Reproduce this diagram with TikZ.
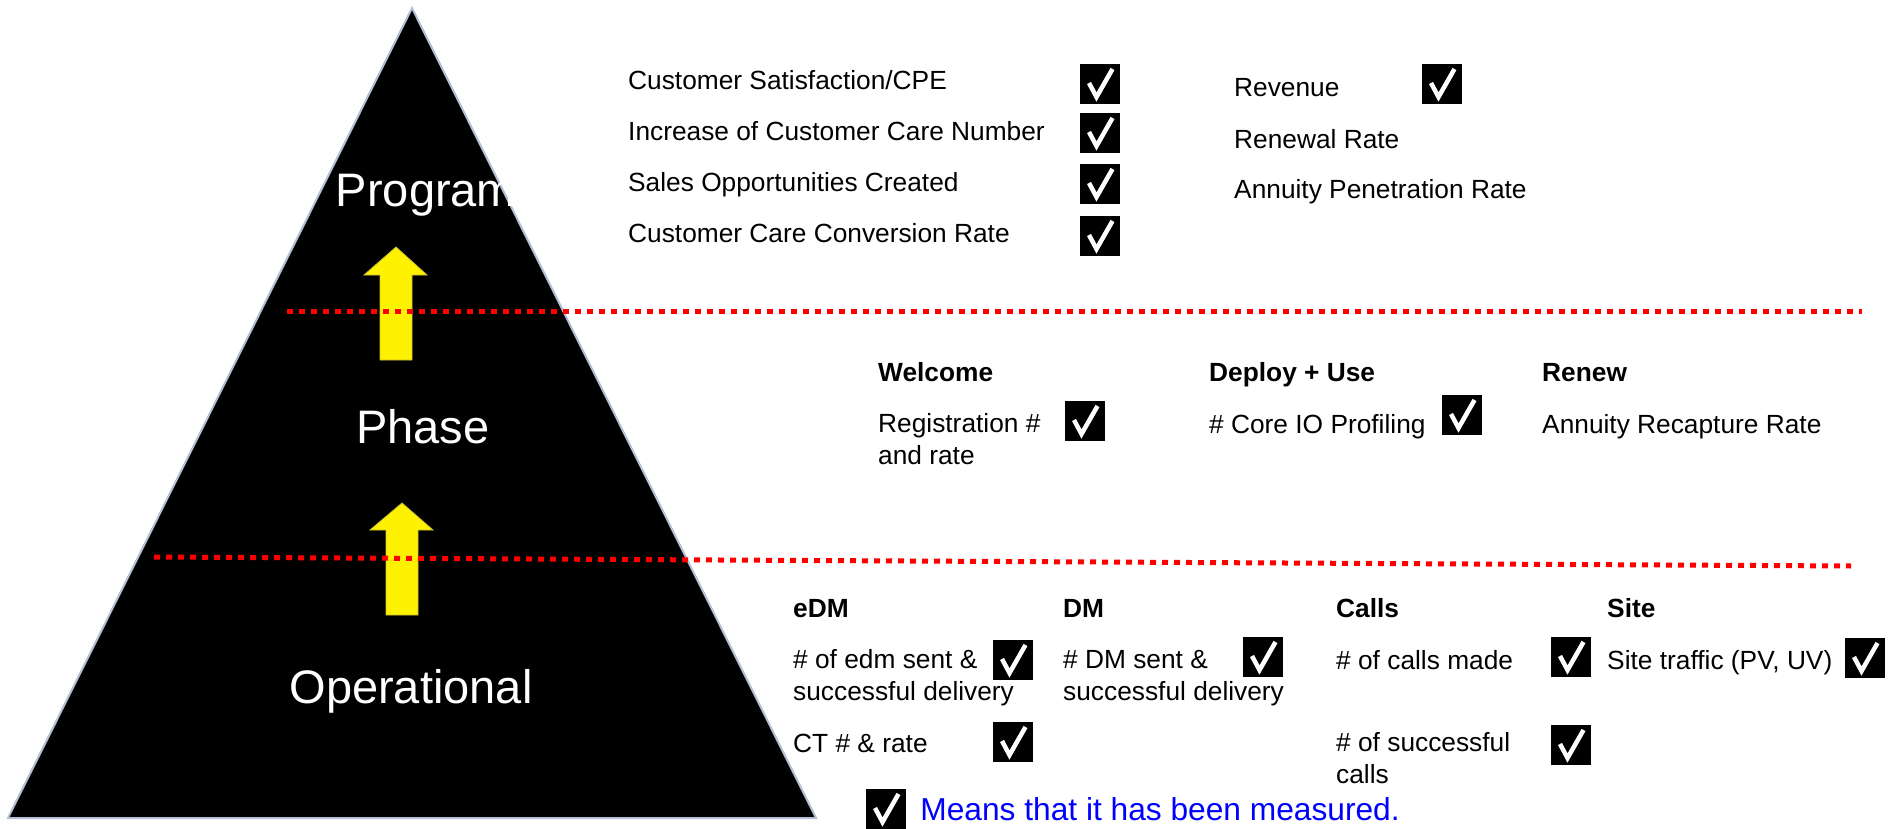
\documentclass[tikz,border=0pt]{standalone}
\usepackage{fontspec}
\setmainfont{Liberation Sans}
\usetikzlibrary{positioning}
\definecolor{edgeblue}{RGB}{180,190,215}
\begin{document}
\begin{tikzpicture}[x=1pt,y=-1pt,
	lbl/.style={anchor=base west,inner sep=0pt,align=left,font=\fontsize{26.3}{31.5}\selectfont},
	hdr/.style={lbl,font=\fontsize{26.3}{31.5}\selectfont\bfseries},
	level/.style={text=white,inner sep=0pt,anchor=base,font=\fontsize{47}{56}\selectfont},
	chkbox/.style={fill=black,minimum size=40pt,inner sep=0pt,
		path picture={\draw[white,line width=4.5pt]
			([xshift=-11pt,yshift=1pt]path picture bounding box.center) -- ++(7.5pt,-14pt) -- ++(16pt,28pt);}},
	sep/.style={red,line width=5pt,dash pattern=on 6pt off 6pt},
	uparrow/.style={fill=yellow,draw=yellow!75!black,line width=0.8pt}]
	\useasboundingbox (0,0) rectangle (1888,829);
	% pyramid
	\filldraw[fill=black,draw=edgeblue,line width=2pt] (412,8) -- (816,818) -- (8,818) -- cycle;
	\node[level] (prog) at (426,207) {Program};
	\node[level] (phase) at (423,443) {Phase};
	\node[level] (oper) at (411,703) {Operational};
	% arrows between the levels
	\filldraw[uparrow] (396,247) -- (427,275) -- (412,275) -- (412,360) -- (380,360) -- (380,275) -- (364,275) -- cycle;
	\filldraw[uparrow] (402,503) -- (433,530) -- (418,530) -- (418,615) -- (386,615) -- (386,530) -- (370,530) -- cycle;
	\draw[sep] (287,311) -- (1862,311);
	\draw[sep] (154,557) -- (1851,566);
	% program level
	\node[lbl] (csat) at (628,90) {Customer Satisfaction/CPE};
	\node[lbl] (care) at (628,141) {Increase of Customer Care Number};
	\node[lbl] (sales) at (628,192) {Sales Opportunities Created};
	\node[lbl] (conv) at (628,243) {Customer Care Conversion Rate};
	\node[chkbox] (c1) at (1100,84) {};
	\node[chkbox] (c2) at (1100,133) {};
	\node[chkbox] (c3) at (1100,184) {};
	\node[chkbox] (c4) at (1100,236) {};
	\node[lbl] (rev) at (1234,97) {Revenue};
	\node[chkbox] (c5) at (1442,84) {};
	\node[lbl] (renew) at (1234,149) {Renewal Rate};
	\node[lbl] (annpen) at (1234,199) {Annuity Penetration Rate};
	% phase level (two-line labels sit on their last baseline)
	\node[hdr] (welcome) at (878,381) {Welcome};
	\node[hdr] (deploy) at (1209,381) {Deploy + Use};
	\node[hdr] (renewh) at (1542,381) {Renew};
	\node[lbl] (reg) at (878,464) {Registration \#\\and rate};
	\node[chkbox] (c6) at (1085,421) {};
	\node[lbl] (core) at (1209,433) {\# Core IO Profiling};
	\node[chkbox] (c7) at (1462,415) {};
	\node[lbl] (recap) at (1542,433) {Annuity Recapture Rate};
	% operational level
	\node[hdr] (edm) at (793,617) {eDM};
	\node[hdr] (dm) at (1063,617) {DM};
	\node[hdr] (calls) at (1336,617) {Calls};
	\node[hdr] (site) at (1607,617) {Site};
	\node[lbl] (edmsent) at (793,700) {\# of edm sent \&\\successful delivery};
	\node[chkbox] (c8) at (1013,660) {};
	\node[lbl] (dmsent) at (1063,700) {\# DM sent \&\\successful delivery};
	\node[chkbox] (c9) at (1263,657) {};
	\node[lbl] (made) at (1336,669) {\# of calls made};
	\node[chkbox] (c10) at (1571,657) {};
	\node[lbl] (traffic) at (1607,669) {Site traffic (PV, UV)};
	\node[chkbox] (c11) at (1865,658) {};
	\node[lbl] (ct) at (793,752) {CT \# \& rate};
	\node[chkbox] (c12) at (1013,742) {};
	\node[lbl] (succ) at (1336,783) {\# of successful\\calls};
	\node[chkbox] (c13) at (1571,745) {};
	% legend
	\node[chkbox] (legend) at (886,809) {};
	\node[right=14pt of legend,inner sep=0pt,text=blue,font=\fontsize{31.7}{38}\selectfont] (means) {Means that it has been measured.};
\end{tikzpicture}
\end{document}
